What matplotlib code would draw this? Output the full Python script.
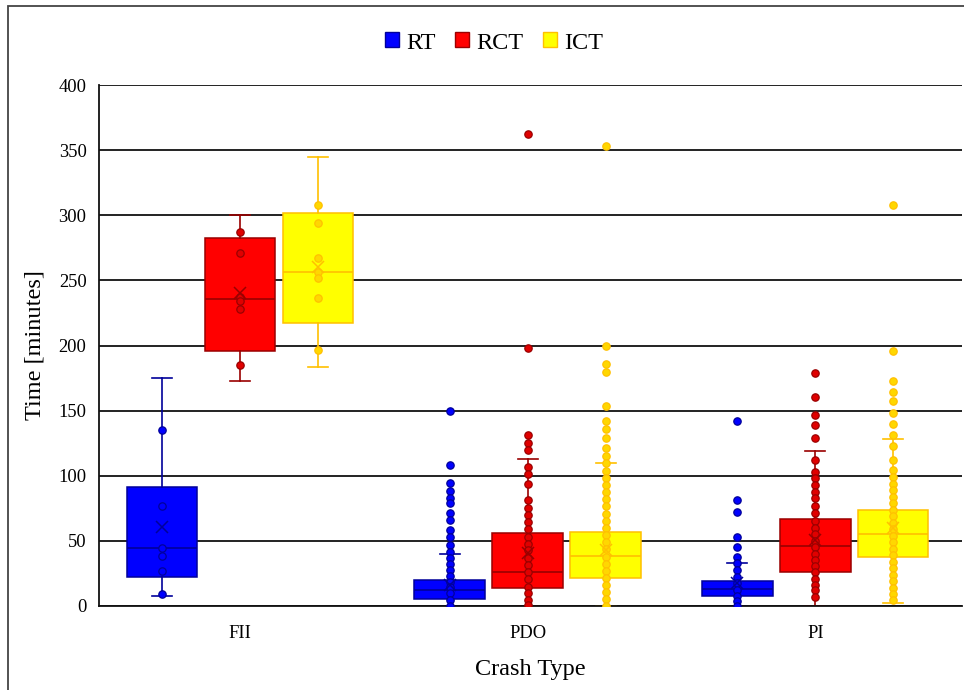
import numpy as np
import matplotlib.pyplot as plt
from matplotlib.patches import Patch, Rectangle

# Categories and series
crash_types = ["FII", "PDO", "PI"]
series = ["RT", "RCT", "ICT"]

# Box statistics per crash type, per series: q1, median, q3, whisker low, whisker high, mean
q1 = {"RT": [22.5, 5.4, 7.9], "RCT": [195.5, 13.5, 25.8], "ICT": [217.0, 21.8, 37.4]}
med = {"RT": [44.8, 12.3, 13.1], "RCT": [236.0, 25.8, 46.1], "ICT": [256.2, 38.4, 55.3]}
q3 = {"RT": [91.6, 20.0, 19.2], "RCT": [282.8, 55.8, 66.5], "ICT": [301.5, 56.6, 73.7]}
whis_lo = {"RT": [7.7, 0.0, 0.0], "RCT": [172.5, 0.0, 0.0], "ICT": [183.7, 0.0, 2.0]}
whis_hi = {"RT": [175.0, 39.9, 33.3], "RCT": [300.5, 112.6, 118.7], "ICT": [344.5, 110.0, 128.5]}
means = {"RT": [60.9, 16.1, 17.4], "RCT": [240.0, 40.4, 50.7], "ICT": [260.5, 43.0, 59.6]}

# Individual points shown in each box
pts_fii_rt = [135, 76.8, 44.8, 38.6, 27.1, 9.5]
pts_fii_rct = [287.4, 270.8, 237.6, 234.5, 227.8, 185.3]
pts_fii_ict = [307.9, 294, 267, 256.7, 251.6, 236.5, 196.8]

pts_pdo_rt = [150, 108.5, 94.4, 88.5, 83.2, 78.8, 71.7, 65.8, 58.3, 53, 47.1, 41.2,
              37.1, 32, 27.6, 23, 18.7, 14.8, 9.7, 4.6, 0]
pts_pdo_rct = [362.4, 197.8, 131.5, 125.4, 119.5, 107, 101.3, 93.7, 81.4, 75, 69.9,
               64.7, 58.9, 53.2, 47.6, 43, 37.1, 31.5, 25.9, 20.5, 14.8, 9.7, 4.6, 0.8]
pts_pdo_ict = [353.4, 199.4, 185.5, 179.9, 153.8, 142, 135.9, 128.7, 121, 115.2, 109.5,
               104, 98.5, 93, 87.5, 82, 76.5, 71, 65.5, 60, 54.5, 49, 43.5, 38, 32.5,
               27, 21.5, 16, 10.5, 5, 0]

pts_pi_rt = [142.3, 81.4, 72.2, 52.7, 45.1, 37.9, 32.8, 27.6, 22.5, 17.4, 12.5, 8, 4, 0]
pts_pi_rct = [179.2, 160.5, 146.4, 139.2, 128.7, 112.1, 103.1, 98, 92.9, 87.8, 82.7,
              76.8, 71.6, 65.5, 60, 55, 50, 45, 40, 35.5, 31, 26, 21, 16.5, 12, 7.2]
pts_pi_ict = [307.9, 195.5, 173, 164, 157.2, 148.4, 139.5, 131.3, 122.8, 112.1, 104.4,
              99, 94, 89, 84, 79, 74, 69, 64, 59, 54, 49, 44, 39, 34, 29, 24, 19,
              14, 9.5, 4.6]

points = {
    "RT": [pts_fii_rt, pts_pdo_rt, pts_pi_rt],
    "RCT": [pts_fii_rct, pts_pdo_rct, pts_pi_rct],
    "ICT": [pts_fii_ict, pts_pdo_ict, pts_pi_ict],
}

# colours: fill, edge
fill = {"RT": "#0000FF", "RCT": "#FF0000", "ICT": "#FFFF00"}
edge = {"RT": "#00009A", "RCT": "#9A0000", "ICT": "#FFC000"}
dot = {"RT": "#0000FF", "RCT": "#E00000", "ICT": "#FFD700"}
offset = {"RT": -0.271, "RCT": 0.0, "ICT": 0.271}

plt.rcParams['font.family'] = ['Liberation Serif', 'DejaVu Serif']

fig = plt.figure(figsize=(9.64, 6.90), dpi=100)
ax = fig.add_axes([99 / 964, 84 / 690, 863 / 964, 521 / 690])

for s in series:
    stats = []
    for i in range(len(crash_types)):
        stats.append(dict(q1=q1[s][i], med=med[s][i], q3=q3[s][i],
                          whislo=whis_lo[s][i], whishi=whis_hi[s][i],
                          mean=means[s][i], fliers=[]))
    pos = np.arange(len(crash_types)) + offset[s]
    ax.bxp(stats, positions=pos, widths=0.245, patch_artist=True,
           showmeans=True, showfliers=False, manage_ticks=False,
           boxprops=dict(facecolor=fill[s], edgecolor=edge[s], linewidth=1.1),
           medianprops=dict(color=edge[s], linewidth=1.2),
           whiskerprops=dict(color=edge[s], linewidth=1.2),
           capprops=dict(color=edge[s], linewidth=1.2),
           capwidths=0.07,
           meanprops=dict(marker="x", markeredgecolor=edge[s], markersize=9,
                          markeredgewidth=1.1, zorder=5))
    for i in range(len(crash_types)):
        y = points[s][i]
        ax.plot(np.full(len(y), pos[i]), y, "o", ls="none", markersize=5.3,
                markerfacecolor=dot[s], markeredgecolor=edge[s],
                markeredgewidth=0.9, zorder=4)

ax.set_xlim(-0.49, 2.51)
ax.set_ylim(0, 400)
ax.set_yticks(np.arange(0, 401, 50))
ax.set_xticks(range(len(crash_types)))
ax.set_xticklabels(crash_types)
ax.yaxis.grid(True, color="#111111", linewidth=1.3)
ax.set_axisbelow(True)
ax.tick_params(axis="both", length=0, labelsize=13.3)
ax.tick_params(axis="y", pad=9)
ax.tick_params(axis="x", pad=14)
for side in ["top", "right"]:
    ax.spines[side].set_visible(False)
ax.spines["left"].set_color("#111111")
ax.spines["bottom"].set_color("#111111")
ax.spines["left"].set_linewidth(1.3)
ax.spines["bottom"].set_linewidth(1.3)

ax.set_ylabel("Time [minutes]", fontsize=17.5)
ax.set_xlabel("Crash Type", fontsize=17.5)
ax.yaxis.set_label_coords(-0.0615, 0.5)
ax.xaxis.set_label_coords(0.5, -0.101)

handles = [Patch(facecolor=fill[s], edgecolor=edge[s], label=s) for s in series]
fig.legend(handles=handles, loc="center", bbox_to_anchor=(494 / 964, 1 - 43 / 690),
           ncol=3, frameon=False, fontsize=17.5, handlelength=0.57, handleheight=0.57,
           handletextpad=0.3, columnspacing=0.8)

# outer frame of the chart area
fig.patches.append(Rectangle((8 / 964, -0.05), 1.1, 1 - 6 / 690 + 0.05,
                             transform=fig.transFigure, fill=False,
                             edgecolor="#444444", linewidth=1.3))

fig.savefig("out.png", dpi=100)
